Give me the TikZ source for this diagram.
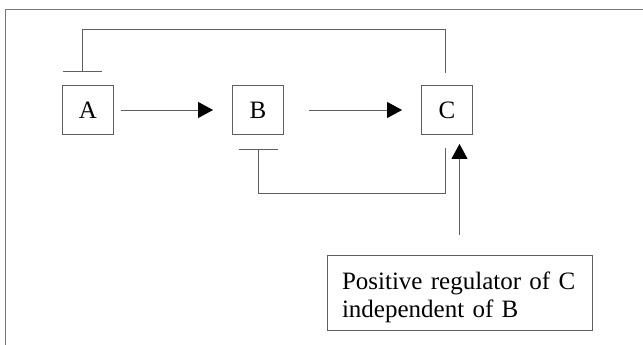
\documentclass[tikz,border=0pt]{standalone}
\usepackage{fontspec}
\setmainfont{Liberation Serif}
\usetikzlibrary{arrows.meta,positioning}
\definecolor{linegray}{RGB}{95,95,95}
\definecolor{framegray}{RGB}{120,120,120}

\begin{document}
\begin{tikzpicture}[x=1pt,y=-1pt,node distance=170pt,on grid,
  box/.style={draw=linegray,line width=0.9pt,minimum width=51pt,minimum height=49pt,
    inner sep=0pt,font=\fontsize{25}{28}\selectfont},
  act/.style={draw=linegray,line width=0.9pt,-{Triangle[length=15pt,width=16pt,color=black]}},
  inhib/.style={draw=linegray,line width=0.9pt,-{Bar[width=39pt]}}]
			\useasboundingbox (0,0) rectangle (643,345);
			\draw[framegray,line width=1pt] (643,10) -- (5,10) -- (5,345);
			\node[box] (A) at (88,110) {A};
			\node[box] (B) [right=of A] {B};
			\node[box] (C) [right=189pt of B] {C};
			\node[draw=linegray,line width=0.9pt,minimum width=265pt,minimum height=75pt,
			  text width=235pt,inner xsep=15pt,align=left,
			  font=\fontsize{25}{28}\selectfont] (reg) at (459.5,292.5)
			  {\rule{0pt}{27pt}Positive regulator of C\\independent of B};
			\coordinate (topbend) at (82,29);
			% activation
			\draw[act,shorten <=7pt,shorten >=19pt] (A) -- (B);
			\draw[act,shorten <=25pt,shorten >=19pt] (B) -- (C);
			\draw[act,shorten <=20pt,shorten >=9pt] (reg.north) -- (reg.north |- C.south);
			% repression
			\draw[inhib,shorten <=12pt,shorten >=13pt] ([xshift=-2pt]C.north)
			  -- ([xshift=-2pt]C.north |- topbend) -- (topbend) -- (topbend |- A.north);
			\draw[inhib,shorten <=13pt,shorten >=14pt] ([xshift=-2pt]C.south)
			  -- ++(0,58) -| (B.south);
		\end{tikzpicture}
\end{document}
